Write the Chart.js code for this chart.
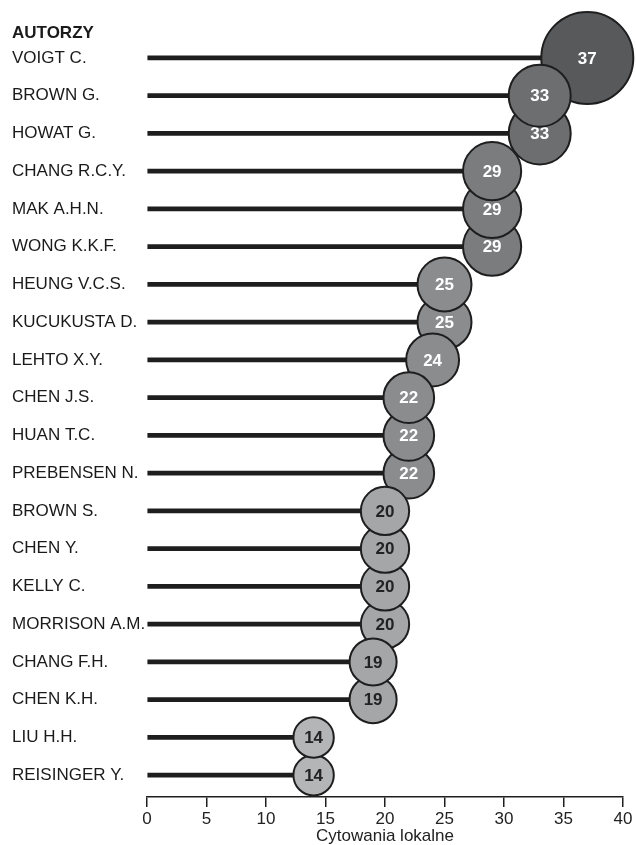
<!DOCTYPE html>
<html lang="pl">
<head>
  <meta charset="utf-8" />
  <title>Autorzy - cytowania lokalne</title>
  <style>
    html, body { margin: 0; padding: 0; background: #fff; }
    #wrap { width: 636px; height: 845px; position: relative; }
  </style>
</head>
<body>
  <div id="wrap"><canvas id="chart"></canvas></div>
  <script src="https://cdn.jsdelivr.net/npm/chart.js@4.4.1/dist/chart.umd.min.js"></script>
  <script>
  // data
  const authors = [
    "VOIGT C.", "BROWN G.", "HOWAT G.", "CHANG R.C.Y.", "MAK A.H.N.", "WONG K.K.F.",
    "HEUNG V.C.S.", "KUCUKUSTA D.", "LEHTO X.Y.", "CHEN J.S.", "HUAN T.C.", "PREBENSEN N.",
    "BROWN S.", "CHEN Y.", "KELLY C.", "MORRISON A.M.", "CHANG F.H.", "CHEN K.H.",
    "LIU H.H.", "REISINGER Y."
  ];
  const citations = [37, 33, 33, 29, 29, 29, 25, 25, 24, 22, 22, 22, 20, 20, 20, 20, 19, 19, 14, 14];
  const xTicks = [0, 5, 10, 15, 20, 25, 30, 35, 40];
  const headerText = "AUTORZY";
  const xTitle = "Cytowania lokalne";

  const FONT = "'Liberation Sans', Arial, sans-serif";
  const INK = "#1e1e1e";

  function bubbleRadius(v) {
    if (v >= 35) return 46;
    return 5.4 * Math.sqrt(v);
  }
  function bubbleFill(v) {
    if (v >= 35) return "#58595b";
    if (v >= 31) return "#6c6e70";
    if (v >= 27) return "#7a7c7e";
    if (v >= 21) return "#8b8c8e";
    if (v >= 17) return "#a5a6a8";
    return "#b4b5b7";
  }

  const points = citations.map(function (v, i) { return { x: v, y: i }; });

  // bubbles drawn one by one so each number sits with its own circle
  const bubbleDraw = {
    id: "bubbleDraw",
    beforeDatasetDraw(chart, args) {
      if (args.meta.type !== "bubble") return;
      const ctx = chart.ctx;
      const els = args.meta.data;
      const order = els.map(function (e, i) { return i; })
        .sort(function (a, b) { return citations[b] - citations[a] || b - a; });
      ctx.save();
      order.forEach(function (i) {
        const el = els[i];
        el.draw(ctx, chart.chartArea);
        const v = citations[i];
        ctx.font = "bold 17px " + FONT;
        ctx.fillStyle = v >= 21 ? "#ffffff" : "#222222";
        ctx.textAlign = "center";
        ctx.textBaseline = "middle";
        ctx.fillText(String(v), el.x, el.y + 1);
      });
      ctx.restore();
      return false;
    },
    afterDraw(chart) {
      const ctx = chart.ctx;
      const y = chart.scales.y;
      ctx.save();
      ctx.font = "bold 17px " + FONT;
      ctx.fillStyle = "#1a1a1a";
      ctx.textAlign = "left";
      ctx.textBaseline = "middle";
      ctx.fillText(headerText, y.left, y.getPixelForValue(-0.66));
      ctx.restore();
    }
  };

  new Chart(document.getElementById("chart"), {
    data: {
      datasets: [
        {
          type: "bar",
          indexAxis: "y",
          data: points,
          backgroundColor: INK,
          barThickness: 4,
          order: 2
        },
        {
          type: "bubble",
          data: points,
          radius: function (c) { return bubbleRadius(c.raw.x); },
          backgroundColor: function (c) { return bubbleFill(c.raw.x); },
          borderColor: INK,
          borderWidth: 2,
          clip: false,
          order: 1
        }
      ]
    },
    options: {
      responsive: true,
      maintainAspectRatio: false,
      animation: false,
      events: [],
      layout: { autoPadding: false, padding: { left: 12, right: 13, top: 0, bottom: 0 } },
      plugins: { legend: { display: false }, tooltip: { enabled: false } },
      scales: {
        x: {
          type: "linear",
          position: "bottom",
          min: 0,
          max: 40,
          afterBuildTicks: function (s) { s.ticks = xTicks.map(function (v) { return { value: v }; }); },
          afterFit: function (s) { s.height = 48; },
          grid: { display: true, drawOnChartArea: false, drawTicks: true, tickLength: 10, color: INK, lineWidth: 1.5 },
          border: { display: true, color: INK, width: 1.5 },
          ticks: { color: "#222", font: { family: FONT, size: 17 }, padding: 2, maxRotation: 0 },
          title: { display: true, text: xTitle, color: "#222", font: { family: FONT, size: 17, lineHeight: 1 }, padding: 0 }
        },
        y: {
          type: "linear",
          position: "left",
          reverse: true,
          min: -1.007,
          max: 19.05,
          afterBuildTicks: function (s) { s.ticks = authors.map(function (a, i) { return { value: i }; }); },
          afterFit: function (s) { s.width = 135; s.paddingTop = 0; s.paddingBottom = 0; },
          grid: { display: false, drawTicks: false },
          border: { display: false },
          ticks: {
            crossAlign: "far",
            color: "#1a1a1a",
            font: { family: FONT, size: 17 },
            callback: function (v) { return authors[v]; }
          }
        }
      }
    },
    plugins: [bubbleDraw]
  });
  </script>
</body>
</html>
